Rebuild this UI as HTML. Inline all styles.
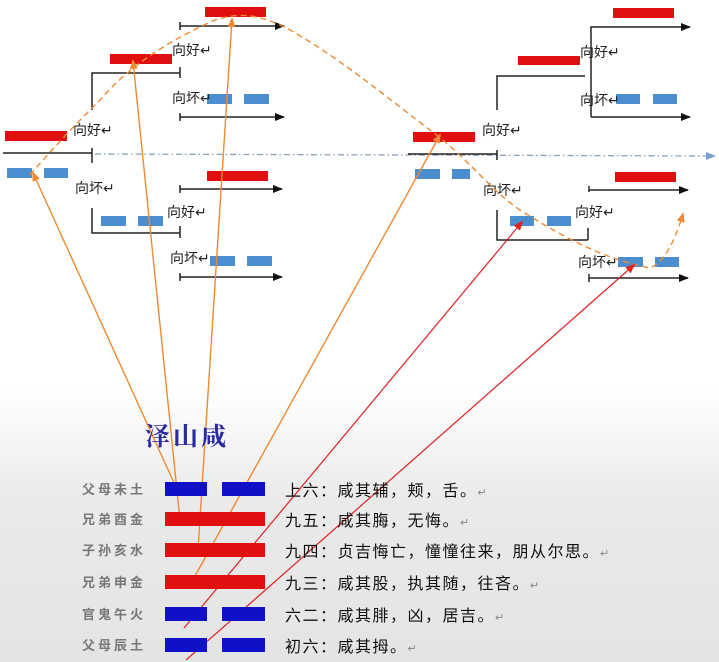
<!DOCTYPE html>
<html><head><meta charset="utf-8"><style>
html,body{margin:0;padding:0;}
body{width:719px;height:662px;overflow:hidden;background:linear-gradient(#fff 0,#fff 390px,#eaeaea 500px,#e4e4e4 662px);font-family:"Liberation Sans","Noto Sans CJK SC",sans-serif;}
svg{position:absolute;left:0;top:0;}
</style></head><body>
<svg width="719" height="662" viewBox="0 0 719 662" xmlns="http://www.w3.org/2000/svg">
<defs>
<marker id="ak" markerWidth="10" markerHeight="8" refX="9" refY="4" orient="auto" markerUnits="userSpaceOnUse"><path d="M0,0 L10,4 L0,8 Z" fill="#111"/></marker>
<marker id="ao" markerWidth="10" markerHeight="8" refX="8" refY="4" orient="auto" markerUnits="userSpaceOnUse"><path d="M0,0 L10,4 L0,8 Z" fill="#f08a30"/></marker>
<marker id="ar" markerWidth="10" markerHeight="8" refX="8" refY="4" orient="auto" markerUnits="userSpaceOnUse"><path d="M0,0 L10,4 L0,8 Z" fill="#e02020"/></marker>
<marker id="ab" markerWidth="10" markerHeight="8" refX="8" refY="4" orient="auto" markerUnits="userSpaceOnUse"><path d="M0,0 L10,4 L0,8 Z" fill="#7aa0d0"/></marker>
</defs>
<g fill="#e01010">
<rect x="5" y="131" width="62" height="10"/><rect x="110" y="54" width="62" height="10"/>
<rect x="205" y="7" width="61" height="10"/><rect x="207" y="171" width="61" height="10"/>
<rect x="413" y="132" width="62" height="10"/><rect x="518" y="56" width="62" height="9"/>
<rect x="613" y="8" width="61" height="10"/><rect x="615" y="172" width="61" height="10"/>
</g>
<g fill="#4a8ed0">
<rect x="7" y="168" width="25" height="10"/><rect x="44" y="168" width="24" height="10"/>
<rect x="101" y="216" width="25" height="10"/><rect x="138" y="216" width="25" height="10"/>
<rect x="207" y="94" width="25" height="10"/><rect x="244" y="94" width="25" height="10"/>
<rect x="210" y="256" width="25" height="10"/><rect x="247" y="256" width="25" height="10"/>
<rect x="415" y="169" width="25" height="10"/><rect x="452" y="169" width="18" height="10"/>
<rect x="616" y="94" width="24" height="10"/><rect x="653" y="94" width="24" height="10"/>
<rect x="510" y="216" width="24" height="10"/><rect x="547" y="216" width="24" height="10"/>
<rect x="618" y="257" width="25" height="10"/><rect x="655" y="257" width="24" height="10"/>
</g>
<line x1="95" y1="154" x2="714" y2="156" stroke="#8aa0bb" stroke-width="1.3" stroke-dasharray="6,3,1.5,3" marker-end="url(#ab)"/>
<g stroke="#222" stroke-width="1.5" fill="none">
<path d="M3,153 H92 M92,148 V163"/>
<path d="M92,110 V73 H180 M180,67 V78"/>
<path d="M92,208 V233 H180 M180,226 V238"/>
<path d="M180,22 V30 M180,26 H284" marker-end="url(#ak)"/>
<path d="M180,113 V121 M180,117 H284" marker-end="url(#ak)"/>
<path d="M180,185 V193 M180,189 H282" marker-end="url(#ak)"/>
<path d="M180,273 V281 M180,277 H282" marker-end="url(#ak)"/>
<path d="M408,154 H497 M497,150 V160"/>
<path d="M497,110 V76 H585"/>
<path d="M591,117 V27 H690" marker-end="url(#ak)"/>
<path d="M591,117 H690" marker-end="url(#ak)"/>
<path d="M497,210 V240 H588 M588,228 V240"/>
<path d="M589,186 V192 M589,190 H688" marker-end="url(#ak)"/>
<path d="M589,274 V282 M589,278 H688" marker-end="url(#ak)"/>
</g>
<g font-size="14" fill="#222">
<text x="73" y="135">向好↵</text><text x="75" y="193">向坏↵</text>
<text x="167" y="217">向好↵</text><text x="172" y="55">向好↵</text>
<text x="172" y="103">向坏↵</text><text x="170" y="263">向坏↵</text>
<text x="482" y="135">向好↵</text><text x="483" y="195">向坏↵</text>
<text x="580" y="57">向好↵</text><text x="580" y="105">向坏↵</text>
<text x="575" y="217">向好↵</text><text x="578" y="267">向坏↵</text>
</g>
<path d="M30,175 C60,140 80,120 100,100 C130,65 170,40 215,20 C240,12 260,14 290,30 C340,58 390,100 430,130 C470,160 490,190 520,210 C560,235 600,258 650,268 C665,262 675,240 683,214" fill="none" stroke="#f08a30" stroke-width="1.4" stroke-dasharray="6,4" marker-end="url(#ao)"/>
<g stroke="#f08a30" stroke-width="1.4">
<line x1="175" y1="485" x2="33" y2="173" marker-end="url(#ao)"/>
<line x1="180" y1="520" x2="133" y2="61" marker-end="url(#ao)"/>
<line x1="198" y1="550" x2="232" y2="19" marker-end="url(#ao)"/>
<line x1="190" y1="585" x2="440" y2="135" marker-end="url(#ao)"/>
</g>
<g stroke="#e02020" stroke-width="1.2">
<line x1="184" y1="628" x2="522" y2="222" marker-end="url(#ar)"/>
<line x1="186" y1="660" x2="634" y2="265" marker-end="url(#ar)"/>
</g>
<text x="145" y="445" font-size="25" font-weight="bold" fill="#2a2aa0" letter-spacing="3" font-family="'Noto Serif CJK SC',serif">泽山咸</text>
<g font-size="13" fill="#777" font-weight="bold" letter-spacing="3">
<text x="82" y="494">父母未土</text><text x="82" y="524">兄弟酉金</text><text x="82" y="555">子孙亥水</text>
<text x="82" y="587">兄弟申金</text><text x="82" y="619">官鬼午火</text><text x="82" y="650">父母辰土</text>
</g>
<g>
<rect x="165" y="482" width="42" height="14" fill="#1010c8"/><rect x="222" y="482" width="43" height="14" fill="#1010c8"/>
<rect x="165" y="512" width="100" height="14" fill="#e01010"/>
<rect x="165" y="543" width="100" height="14" fill="#e01010"/>
<rect x="165" y="575" width="100" height="14" fill="#e01010"/>
<rect x="165" y="607" width="42" height="14" fill="#1010c8"/><rect x="222" y="607" width="43" height="14" fill="#1010c8"/>
<rect x="165" y="638" width="42" height="14" fill="#1010c8"/><rect x="222" y="638" width="43" height="14" fill="#1010c8"/>
</g>
<g font-size="16" fill="#111" letter-spacing="1.5">
<text x="285" y="496">上六：咸其辅，颊，舌。<tspan font-size="11" fill="#888">↵</tspan></text>
<text x="285" y="526">九五：咸其脢，无悔。<tspan font-size="11" fill="#888">↵</tspan></text>
<text x="285" y="557">九四：贞吉悔亡，憧憧往来，朋从尔思。<tspan font-size="11" fill="#888">↵</tspan></text>
<text x="285" y="589">九三：咸其股，执其随，往吝。<tspan font-size="11" fill="#888">↵</tspan></text>
<text x="285" y="621">六二：咸其腓，凶，居吉。<tspan font-size="11" fill="#888">↵</tspan></text>
<text x="285" y="652">初六：咸其拇。<tspan font-size="11" fill="#888">↵</tspan></text>
</g>
</svg>
</body></html>
